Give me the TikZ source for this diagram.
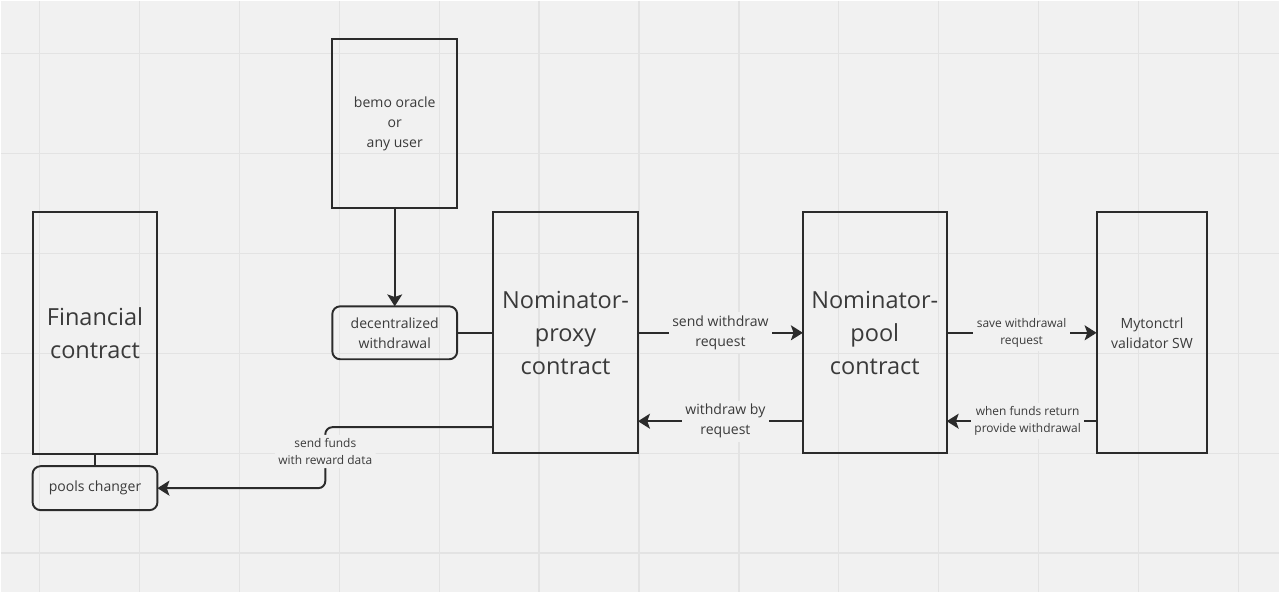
\documentclass[tikz,border=0pt]{standalone}
\usepackage{fontspec}
\setmainfont{Open Sans}
\usetikzlibrary{arrows.meta,positioning}
\definecolor{bg}{HTML}{F1F1F1}
\definecolor{gridline}{HTML}{E3E3E3}
\definecolor{ink}{HTML}{2B2B2B}
\definecolor{txt}{HTML}{3A3A3A}

\begin{document}
\begin{tikzpicture}[x=0.02cm,y=-0.02cm,
		box/.style={draw=ink,line width=1.1pt,inner sep=0pt,outer sep=0pt,text=txt,align=center},
		bigtxt/.style={font=\fontsize{13.4}{18.8}\selectfont},
		midtxt/.style={font=\fontsize{8}{11.4}\selectfont},
		smalltxt/.style={font=\fontsize{6.8}{9.7}\selectfont},
		lnk/.style={draw=ink,line width=1.1pt},
		arr/.style={lnk,-{Stealth[length=6.8pt,width=8.5pt,inset=1.5pt]}},
		lbl/.style={fill=bg,text=txt,align=center,inner sep=2pt}]
			\fill[bg] (0,0) rectangle (1280,592);
			\foreach \x in {39,139,...,1239} \draw[gridline,line width=0.7pt] (\x,0)--(\x,592);
			\foreach \y in {53,153,...,553} \draw[gridline,line width=0.7pt] (0,\y)--(1280,\y);
			\node[box,bigtxt,minimum width=2.5cm,minimum height=4.84cm] (fin) at (94.5,333) {Financial\\contract};
			\node[box,midtxt,rounded corners=4.5pt,minimum width=2.5cm,minimum height=0.88cm] (pools) at (94.5,488) {pools changer};
			\node[box,midtxt,minimum width=2.5cm,minimum height=3.4cm] (bemo) at (394.5,123) {bemo oracle\\or\\any user};
			\node[box,midtxt,rounded corners=4.5pt,minimum width=2.5cm,minimum height=1.06cm] (dec) at (394.5,332.5) {decentralized\\withdrawal};
			\node[box,bigtxt,minimum width=2.9cm,minimum height=4.82cm] (proxy) at (565.5,332.5) {Nominator-\\proxy\\contract};
			\node[box,bigtxt,minimum width=2.88cm,minimum height=4.82cm] (pool) at (875,332.5) {Nominator-\\pool\\contract};
			\node[box,midtxt,minimum width=2.22cm,minimum height=4.82cm] (myton) at (1152.5,332.5) {Mytonctrl\\validator SW};
			\coordinate (turn) at (325,488);
			\draw[arr] (bemo) -- (dec);
			\draw[lnk] (fin) -- (pools);
			\draw[lnk] (dec) -- (proxy);
			\draw[arr] (proxy) -- node[lbl,midtxt] {send withdraw\\request} (pool);
			\draw[arr] (pool) -- node[lbl,smalltxt] {save withdrawal\\request} (myton);
			\draw[arr] ([yshift=-1.77cm]myton.west) -- node[lbl,smalltxt,pos=0.46] {when funds return\\provide withdrawal} ([yshift=-1.77cm]pool.east);
			\draw[arr] ([yshift=-1.77cm]pool.west) -- node[lbl,midtxt,pos=0.47] {withdraw by\\request} ([yshift=-1.77cm]proxy.east);
			\draw[arr,rounded corners=4pt] ([yshift=-1.89cm]proxy.west) -| node[lbl,smalltxt,pos=0.7] {send funds\\with reward data} (turn) -- (pools.east);
		\end{tikzpicture}
\end{document}
